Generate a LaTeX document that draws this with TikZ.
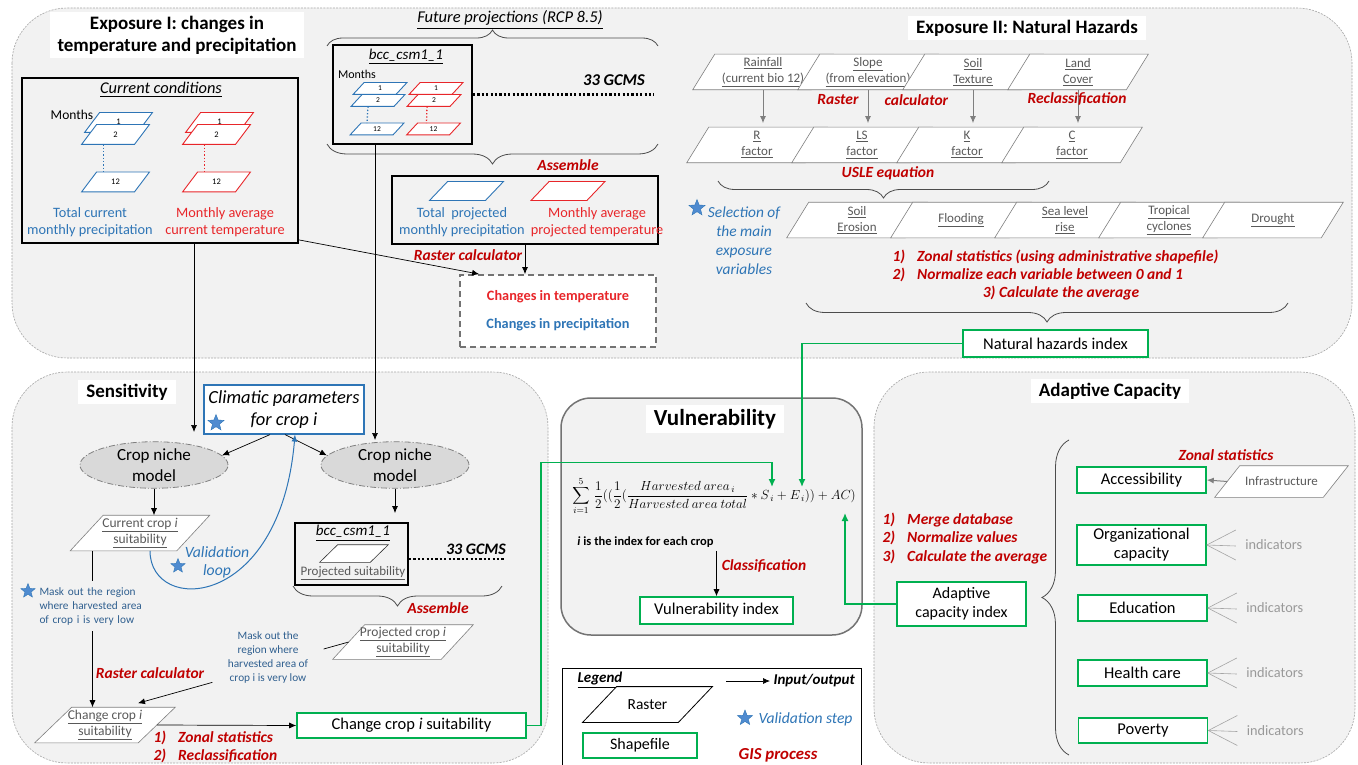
\RequirePackage{fix-cm}
\documentclass[tikz,border=0pt]{standalone}
\usepackage{fontspec}
\setmainfont{Carlito}
\usepackage{amsmath}
\usetikzlibrary{shapes.geometric,arrows.meta,decorations.pathreplacing,calc}

\definecolor{panelgray}{HTML}{F2F2F2}
\definecolor{panelline}{HTML}{A6A6A6}
\definecolor{precipblue}{HTML}{2E75B6}
\definecolor{tempred}{HTML}{E8262A}
\definecolor{gisred}{HTML}{C00000}
\definecolor{shapegreen}{HTML}{00B050}
\definecolor{maskblue}{HTML}{2F5F8F}
\definecolor{starblue}{HTML}{4F8BD0}
\definecolor{nichegray}{HTML}{D9D9D9}
\definecolor{rastergray}{HTML}{7F7F7F}
\definecolor{textgray}{HTML}{595959}

\newcommand{\fs}[2]{\fontsize{#1}{#2}\selectfont}

% parallelogram used for the raster layers
\makeatletter
\pgfkeys{/pgf/skew amount/.initial=20pt}
\pgfdeclareshape{skewbox}{%
  \inheritsavedanchors[from=rectangle]%
  \savedmacro{\skewamt}{\pgfmathsetlength\pgf@xc{\pgfkeysvalueof{/pgf/skew amount}}\edef\skewamt{\the\pgf@xc}}%
  \inheritanchor[from=rectangle]{center}%
  \inheritanchor[from=rectangle]{north}%
  \inheritanchor[from=rectangle]{south}%
  \inheritanchor[from=rectangle]{north east}%
  \inheritanchor[from=rectangle]{north west}%
  \inheritanchor[from=rectangle]{south east}%
  \inheritanchor[from=rectangle]{south west}%
  \inheritanchor[from=rectangle]{text}%
  \inheritanchor[from=rectangle]{mid}%
  \inheritanchor[from=rectangle]{base}%
  \inheritanchorborder[from=rectangle]%
  \anchor{west}{\skewamt\southwest\pgf@xa=\pgf@x\pgf@ya=\pgf@y\northeast\pgf@yb=\pgf@y
    \pgf@x=\pgf@xa\advance\pgf@x by .5\dimexpr\skewamt\relax\pgf@y=.5\pgf@ya\advance\pgf@y by .5\pgf@yb}%
  \anchor{east}{\skewamt\northeast\pgf@xb=\pgf@x\pgf@yb=\pgf@y\southwest\pgf@ya=\pgf@y
    \pgf@x=\pgf@xb\advance\pgf@x by -.5\dimexpr\skewamt\relax\pgf@y=.5\pgf@ya\advance\pgf@y by .5\pgf@yb}%
  \backgroundpath{%
    \skewamt
    \southwest\pgf@xa=\pgf@x\pgf@ya=\pgf@y
    \northeast\pgf@xb=\pgf@x\pgf@yb=\pgf@y
    \pgf@xc=\skewamt\relax
    \pgfpathmoveto{\pgfqpoint{\pgf@xa}{\pgf@ya}}%
    \pgfpathlineto{\pgfpointadd{\pgfqpoint{\pgf@xb}{\pgf@ya}}{\pgfqpoint{-\pgf@xc}{0pt}}}%
    \pgfpathlineto{\pgfqpoint{\pgf@xb}{\pgf@yb}}%
    \pgfpathlineto{\pgfpointadd{\pgfqpoint{\pgf@xa}{\pgf@yb}}{\pgfqpoint{\pgf@xc}{0pt}}}%
    \pgfpathclose
  }%
}
\makeatother

\tikzset{
  skewby/.style={/pgf/skew amount=#1},
  panel/.style={draw=panelline, fill=panelgray, dash pattern=on 2pt off 1.2pt, line width=0.6pt, rounded corners=55pt},
  paneltitle/.style={fill=white, inner xsep=8pt, inner ysep=4pt, font=\bfseries\fs{19}{22}, align=center},
  blackbox/.style={draw=black, line width=1.8pt, fill=none},
  shapefile/.style={draw=shapegreen, line width=1.6pt, fill=white, align=center, font=\fs{16.5}{19}},
  raster/.style={shape=skewbox, skewby=22pt, draw=rastergray, fill=white, line width=0.6pt, inner sep=1pt, minimum height=35pt, align=center, text=textgray, font=\fs{13}{16}},
  monthlayer/.style={raster, skewby=15pt, line width=0.9pt, minimum height=19pt, minimum width=67pt, text=black, font=\fs{8.5}{9}},
  smalllayer/.style={monthlayer, skewby=11pt, minimum height=11pt, minimum width=53pt, font=\fs{7.5}{8}},
  niche/.style={ellipse, draw=rastergray, fill=nichegray, dash pattern=on 6pt off 2pt on 1pt off 2pt, line width=0.8pt, minimum width=148pt, minimum height=46pt, inner sep=0pt, align=center, font=\fs{17}{21}},
  gis/.style={text=gisred, font=\bfseries\itshape\fs{15.5}{18.5}},
  io/.style={-{Latex[length=7pt,width=6pt]}, line width=0.7pt},
  grayio/.style={-{Latex[length=7pt,width=6pt]}, draw=rastergray, line width=1pt},
  greenio/.style={-{Latex[length=8pt,width=7pt]}, draw=shapegreen, line width=1.4pt},
  curly/.style={decorate, decoration={brace, amplitude=#1}, draw=black!70, line width=0.8pt},
  gcms/.style={line width=2.4pt, dash pattern=on 2.2pt off 2.2pt},
  vstar/.style={star, star points=5, star point ratio=2.3, fill=starblue, draw=precipblue, line width=0.4pt, minimum size=#1, inner sep=0pt},
  vstar/.default=15pt,
  masktext/.style={text=maskblue, font=\fs{11.3}{14}},
  indline/.style={draw=rastergray!70, line width=0.6pt},
}

\begin{document}
\begin{tikzpicture}[x=1pt, y=-1pt, font=\fs{14.3}{17}]
\useasboundingbox[fill=white] (0,0) rectangle (1358,765);
% panels
\draw[panel] (12,8) rectangle (1352,358);
\draw[panel] (12,372) rectangle (548,763);
\draw[panel] (874,372) rectangle (1355,763);
\draw[draw=black!55, fill=panelgray, line width=1.5pt, rounded corners=30pt] (561,398) rectangle (862,635);
\draw[draw=black, line width=1pt, fill=white] (562,668) rectangle (861,775);
%
% Exposure I
\node[paneltitle] (expI) at (177,35) {Exposure I: changes in\\temperature and precipitation};
\node[blackbox, minimum width=276pt, minimum height=165pt] (current) at (160,160.5) {};
\node[font=\itshape\fs{16.4}{18}] (curcond) at (161,90) {\underline{Current conditions}};
\node[monthlayer, draw=precipblue] (cb1) at (118.5,122.5) {\raisebox{2pt}{1}};
\node[monthlayer, draw=precipblue] (cb2) at (115.5,134.5) {2};
\node[monthlayer, draw=precipblue] (cb12) at (115.5,182) {12};
\node[monthlayer, draw=tempred] (ct1) at (219.5,122.5) {\raisebox{2pt}{1}};
\node[monthlayer, draw=tempred] (ct2) at (216.5,134.5) {2};
\node[monthlayer, draw=tempred] (ct12) at (216.5,182) {12};
\node[font=\fs{13.5}{15}] (months1) at (72,115) {Months};
\draw[precipblue, line width=1.3pt, dotted] ($(cb2.south)+(-12,0)$) -- ($(cb12.north)+(-12,0)$);
\draw[tempred, line width=1.3pt, dotted] ($(ct2.south)+(-12,0)$) -- ($(ct12.north)+(-12,0)$);
\node[text=precipblue, align=center] (curprec) at (90,222) {Total current\\monthly precipitation};
\node[text=tempred, align=center] (curtemp) at (225,222) {Monthly average\\current temperature};
%
\node[font=\itshape\fs{16.5}{18}] (future) at (510,20) {\underline{Future projections (RCP 8.5)}};
\draw[curly=16pt] (327,46) -- (658,46);
\node[blackbox, minimum width=139pt, minimum height=99pt] (bcc) at (402.5,94.5) {};
\node[font=\itshape\fs{15}{17}] (bcclabel) at (406,57) {\underline{bcc\_csm1\_1}};
\node[smalllayer, draw=precipblue] (fb1) at (380,88.5) {1};
\node[smalllayer, draw=precipblue] (fb2) at (378,100.5) {2};
\node[smalllayer, draw=precipblue] (fb12) at (377,129) {12};
\node[smalllayer, draw=tempred] (fr1) at (436,88.5) {1};
\node[smalllayer, draw=tempred] (fr2) at (434,100.5) {2};
\node[smalllayer, draw=tempred] (fr12) at (433.5,129) {12};
\node[font=\fs{12}{14}] (months2) at (357,74) {Months};
\draw[precipblue, line width=1.3pt, dotted] ($(fb2.south)+(-10,0)$) -- ($(fb12.north)+(-10,0)$);
\draw[tempred, line width=1.3pt, dotted] ($(fr2.south)+(-7,0)$) -- ($(fr12.north)+(-7,0)$);
\draw[gcms] (bcc.east) -- ++(181,0);
\node[font=\bfseries\itshape\fs{16.5}{18}] (gcms1) at (614,80) {33 GCMS};
\draw[curly=20pt] (658,144) -- (327,144);
\node[gis] (assemble1) at (568,165) {Assemble};
\node[blackbox, minimum width=266pt, minimum height=68pt] (projected) at (525,210) {};
\node[monthlayer, draw=precipblue, skewby=18pt, minimum width=73pt, minimum height=18pt] (pb) at (466.5,191) {};
\node[monthlayer, draw=tempred, skewby=18pt, minimum width=73pt, minimum height=18pt] (pr) at (568,191) {};
\node[text=precipblue, align=center] (projprec) at (462,222) {Total\ \ projected\\monthly precipitation};
\node[text=tempred, align=center] (projtemp) at (597,222) {Monthly average\\projected temperature};
\node[gis] (rastcalc1) at (468,255) {Raster calculator};
\node[draw=black!55, dash pattern=on 6pt off 4pt, line width=1.8pt, fill=white, minimum width=196pt, minimum height=72pt, align=center, font=\bfseries\fs{14.3}{28}] (changes) at (558,311) {\textcolor{tempred}{Changes in temperature}\\\textcolor{precipblue}{Changes in precipitation}};
\draw[io] ($(current.south east)+(0,-4)$) -- ($(changes.north west)+(20,0)$);
\draw[io] (projected.south) -- (projected.south |- changes.north);
%
% Exposure II
\node[paneltitle] (expII) at (1027,28) {Exposure II: Natural Hazards};
\node[raster, minimum width=140pt] (rainfall) at (763,72) {\underline{Rainfall}\\\underline{(current bio 12)}};
\node[raster, minimum width=140pt] (slope) at (868,72) {\underline{Slope}\\\underline{(from elevation)}};
\node[raster, minimum width=140pt] (soil) at (973,72) {\underline{Soil}\\\underline{Texture}};
\node[raster, minimum width=140pt] (land) at (1078,72) {\underline{Land}\\\underline{Cover}};
\node[raster, minimum width=140pt] (rfac) at (757,145) {\underline{R}\\\underline{factor}};
\node[raster, minimum width=140pt] (lsfac) at (862,145) {\underline{LS}\\\underline{factor}};
\node[raster, minimum width=140pt] (kfac) at (967,145) {\underline{K}\\\underline{factor}};
\node[raster, minimum width=140pt] (cfac) at (1072,145) {\underline{C}\\\underline{factor}};
\draw[grayio, shorten >=4pt] (rainfall.south) -- (rainfall.south |- rfac.north);
\draw[grayio, shorten >=4pt] (slope.south) -- (slope.south |- lsfac.north);
\draw[grayio, shorten >=4pt] (soil.south) -- (soil.south |- kfac.north);
\draw[grayio, shorten >=4pt] (land.south) -- (land.south |- cfac.north);
\node[gis, anchor=east] (raster2a) at (862,100) {Raster};
\node[gis, anchor=west] (raster2b) at (881,100) {calculator};
\node[gis] (reclass1) at (1077,99) {Reclassification};
\node[gis] (usle) at (888,173) {USLE equation};
\draw[curly=17pt] (1049,181) -- (718,181);
\node[raster, minimum width=140pt] (erosion) at (857,220) {\underline{Soil}\\\underline{Erosion}};
\node[raster, minimum width=140pt] (flood) at (961,220) {\underline{Flooding}};
\node[raster, minimum width=140pt] (sealevel) at (1065,220) {\underline{Sea level}\\\underline{rise}};
\node[raster, minimum width=140pt] (tropical) at (1169,220) {\underline{Tropical}\\\underline{cyclones}};
\node[raster, minimum width=140pt] (drought) at (1273,220) {\underline{Drought}};
\node[vstar=17pt] (star1) at (697,208) {};
\node[text=precipblue, font=\itshape\fs{15.4}{19}, align=center] (selection) at (744,241) {Selection of\\the main\\exposure\\variables};
\node[gis, anchor=north west, align=left] (zonal1) at (889,246) {1)\hspace{12pt}Zonal statistics (using administrative shapefile)\\2)\hspace{12pt}Normalize each variable between 0 and 1};
\node[gis] (avg1) at (1061,293) {3) Calculate the average};
\draw[curly=19pt] (1288,303) -- (806,303);
\node[shapefile, minimum width=185pt, minimum height=27pt] (nhi) at (1055.5,343.5) {Natural hazards index};
%
% Sensitivity
\node[paneltitle] (sens) at (127,392) {Sensitivity};
\node[draw=precipblue, line width=1.2pt, fill=white, minimum width=160pt, minimum height=49pt, align=center, font=\itshape\fs{18.5}{22}] (clim) at (284,409.5) {Climatic parameters\\for crop i};
\node[vstar=17pt] (star2) at (216,423) {};
\node[niche] (nicheL) at (154,465) {Crop niche\\model};
\node[niche] (nicheR) at (395,465) {Crop niche\\model};
\draw[io] ($(clim.south)+(-14,0)$) -- (nicheL.8);
\draw[io] ($(clim.south)+(1,0)$) -- (nicheR.172);
\coordinate (inL) at (194,432);
\coordinate (inR) at (375,440);
\draw[io] ($(current.south)+(34,0)$) -- (inL);
\draw[io] ($(bcc.south)+(-27.5,0)$) -- (inR);
\node[raster, skewby=33pt, minimum width=139pt, font=\fs{13.5}{16}] (curcrop) at (140,533) {\underline{Current crop \textit{i}}\\\underline{suitability}};
\draw[io] (nicheL.south) -- (nicheL.south |- curcrop.north);
\draw[precipblue, line width=1pt, -{Latex[length=7pt,width=6pt]}] ($(curcrop.south)+(10,0)$) .. controls +(0,64) and +(-15,176) .. ($(clim.south)+(11,0)$);
\node[vstar] (star3) at (178,566) {};
\node[text=precipblue, font=\itshape\fs{15.7}{18}, align=center] (valloop) at (217,562) {Validation\\loop};
\node[masktext, text width=106pt, align=left, inner xsep=0pt, inner ysep=6pt] (mask1) at (92.5,606) {\makebox[\linewidth][s]{Mask out the region}\\\makebox[\linewidth][s]{where harvested area}\\of crop i is very low};
\node[vstar] (star4) at (28,591) {};
\node[raster, skewby=37pt, minimum width=140pt, font=\fs{13.5}{16}] (chgcrop) at (105,725) {\underline{Change crop \textit{i}}\\\underline{suitability}};
\draw[line width=0.7pt] (curcrop.south -| mask1.north) -- (mask1.north);
\draw[io] (mask1.south) -- (mask1.south |- chgcrop.north);
\node[gis] (rastcalc2) at (150,673) {Raster calculator};
\node[masktext, align=center] (mask2) at (268,657) {Mask out the\\region where\\harvested area of\\crop i is very low};
\draw[io] ($(mask2.south west)+(-12,-4)$) -- ($(chgcrop.north)+(33,-4)$);
\node[gis, anchor=north west, align=left] (zonal2) at (150,727) {1)\hspace{12pt}Zonal statistics\\2)\hspace{12pt}Reclassification};
\node[shapefile, minimum width=229pt, minimum height=25pt] (chgsuit) at (411.5,725.5) {Change crop \textit{i} suitability};
\draw[io] (chgcrop.east) -- (chgsuit.west);
\node[blackbox, minimum width=113pt, minimum height=62pt] (bcc2) at (351.5,554) {};
\draw[io, shorten >=9pt] (nicheR.south) -- (nicheR.south |- bcc2.north);
\node[font=\itshape\fs{15}{17}] (bcc2label) at (353,533) {\underline{bcc\_csm1\_1}};
\node[monthlayer, draw=black!80, line width=0.6pt, skewby=18pt, minimum width=68pt, minimum height=17pt] (projsuit) at (354,553.5) {};
\node[text=textgray, font=\fs{13}{15}] (projsuitlabel) at (353,573) {\underline{Projected suitability}};
\draw[gcms] ($(bcc2.east)+(0,5)$) -- ++(96,0);
\node[font=\bfseries\itshape\fs{16}{18}] (gcms2) at (476,549) {33 GCMS};
\draw[curly=20pt] (502,586) -- (293,586);
\node[gis] (assemble2) at (438,608) {Assemble};
\node[raster, skewby=32pt, minimum width=140pt, minimum height=34pt, font=\fs{13.5}{16}] (projcrop) at (403,642) {\underline{Projected crop \textit{i}}\\\underline{suitability}};
\draw[line width=0.7pt] (projcrop.west) -- ($(mask2.east)+(12,-8)$);
%
% Vulnerability
\node[paneltitle, font=\bfseries\fs{23}{26}] (vuln) at (715,419) {Vulnerability};
\node[inner sep=0pt, font=\fs{13.2}{15}] (formula) at (714,496) {$\displaystyle\sum_{i=1}^{5}\,\frac{1}{2}((\frac{1}{2}(\frac{Harvested\ area_{\,i}}{Harvested\ area\ total}*S_{\,i}+E_{\,i}))+AC)$};
\node[font=\bfseries\fs{12.5}{15}] (note) at (645.5,542) {\textit{i} is the index for each crop};
\node[shapefile, minimum width=153pt, minimum height=27pt] (vulidx) at (716.5,610.5) {Vulnerability index};
\draw[io] (note.south east -| vulidx.north) -- (vulidx.north);
\node[gis] (classif) at (764,566) {Classification};
%
% Legend
\node[font=\bfseries\itshape\fs{15}{17}] (legend) at (600,680) {\underline{Legend}};
\node[raster, draw=black, text=black, line width=0.8pt, skewby=34pt, minimum width=129pt, font=\fs{15.4}{17}] (lgraster) at (647.5,704.5) {Raster};
\node[shapefile, minimum width=114pt, minimum height=25pt, font=\fs{16}{18}] (lgshape) at (640,745.5) {Shapefile};
\node[font=\bfseries\itshape\fs{15}{17}, anchor=west] (lginout) at (770,681) {Input/output};
\draw[io] ($(lginout.west)+(-44,0)$) -- (lginout.west);
\node[vstar=16pt] (lgstar) at (745,718) {};
\node[text=precipblue, font=\itshape\fs{15.6}{17}, anchor=west] (lgvalid) at (755,719) {Validation step};
\node[gis, font=\bfseries\itshape\fs{16.8}{19}] (lggis) at (778,755) {GIS process};
%
% Adaptive capacity
\node[paneltitle] (adapt) at (1110,391) {Adaptive Capacity};
\draw[curly=27pt] (1069,755) -- (1069,440);
\node[gis] (zonal3) at (1226,455) {Zonal statistics};
\node[shapefile, minimum width=129pt, minimum height=26pt] (access) at (1141.5,480) {Accessibility};
\node[shapefile, minimum width=129pt, minimum height=36pt, font=\fs{16.5}{19}] (orgcap) at (1141.5,545) {Organizational\\capacity};
\node[shapefile, minimum width=129pt, minimum height=26pt] (educ) at (1142.5,608) {Education};
\node[shapefile, minimum width=129pt, minimum height=26pt] (health) at (1142.5,673) {Health care};
\node[shapefile, minimum width=129pt, minimum height=25pt] (poverty) at (1143,730.5) {Poverty};
\node[raster, skewby=25pt, minimum width=133pt, minimum height=31pt] (infra) at (1281.5,481.5) {Infrastructure};
\draw[grayio] (infra.west) -- (access.east);
\foreach \b in {orgcap,educ,health,poverty}{
  \draw[indline] (\b.east) -- ++(29,-15);
  \draw[indline] (\b.east) -- ++(29,1);
  \draw[indline] (\b.east) -- ++(29,15);
  \node[text=black!40, font=\fs{14.3}{16}] (ind-\b) at ($(\b.east)+(67,0)$) {indicators};
}
\node[gis, anchor=north west, align=left] (merge) at (879,509) {1)\hspace{12pt}Merge database\\2)\hspace{12pt}Normalize values\\3)\hspace{12pt}Calculate the average};
\node[shapefile, minimum width=129pt, minimum height=44pt, font=\fs{16}{19}] (acidx) at (961.5,604) {Adaptive\\capacity index};
%
% green links to the formula
\coordinate (Sin) at (772,487);
\coordinate (Ein) at (802,487);
\coordinate (ACin) at (845,513);
\draw[greenio] (chgsuit.east) -- ++(14,0) -- ++(0,-263) -| (Sin);
\draw[greenio] (nhi.west) -| (Ein);
\draw[greenio] (acidx.west) -| (ACin);
\end{tikzpicture}
\end{document}
